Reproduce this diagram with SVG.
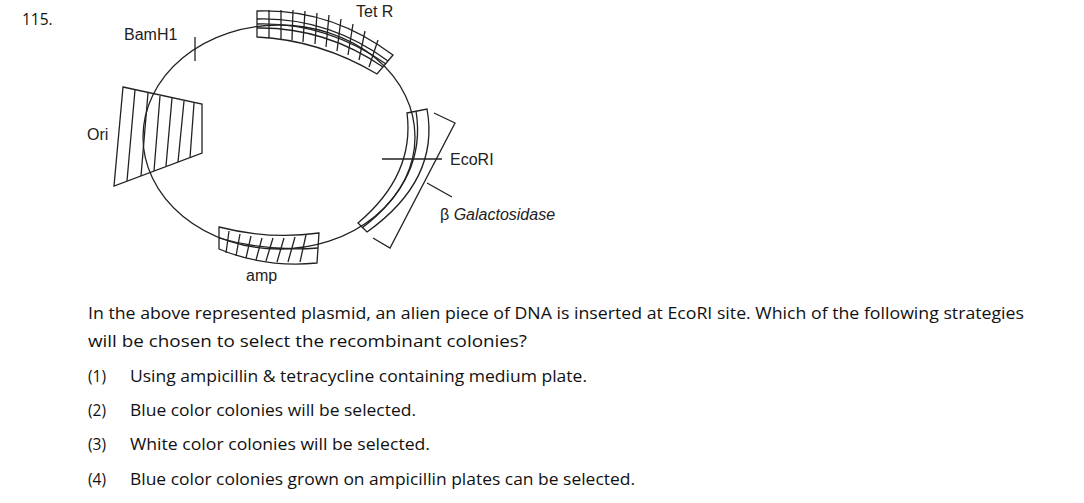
<svg xmlns="http://www.w3.org/2000/svg" width="1084" height="503" viewBox="0 0 1084 503">
<style>
.s{fill:none;stroke:#222;stroke-width:1.3}
.t{font-family:"Liberation Sans",Arial,sans-serif;font-size:16px;fill:#222}
.q{font-family:"Open Sans","Liberation Sans",sans-serif;font-size:15.5px;fill:#111}
</style>
<rect width="1084" height="503" fill="#fff"/>
<text class="q" x="22" y="25" font-size="17">115.</text>
<g id="plasmid">
<ellipse class="s" cx="279" cy="137" rx="136" ry="112"/>
</g>
<g id="tetR">
<path class="s" d="M257,11 Q330,8 393,55 L377,74 Q320,40 257,37 Z"/>
<path class="s" d="M257,19 Q328,17 388,61 M257,28 Q325,27 383,67"/>
<path class="s" stroke-width="3" d="M257,24 Q326,22 386,64"/>
<path class="s" d="M269,10 L269,38 M281,10 L281,39 M293,10 L292,40 M305,11 L303,42 M317,13 L315,44 M329,15 L326,47 M341,19 L337,51 M353,24 L348,55 M365,31 L359,60 M378,40 L369,67"/>
<text class="t" x="356" y="17">Tet R</text>
</g>
<g id="bamh1">
<line class="s" x1="195" y1="37" x2="195" y2="61"/>
<text class="t" x="124" y="40">BamH1</text>
</g>
<g id="ori">
<polygon class="s" points="123,87 202,104 202,153 114,186"/>
<path class="s" d="M135,90 L127,181 M148,93 L141,176 M160,96 L154,171 M172,98 L166,166 M184,101 L178,162 M194,103 L190,158"/>
<text class="t" x="87" y="140">Ori</text>
</g>
<g id="amp">
<path class="s" d="M219,227 Q270,240 319,233 L317,263 Q265,268 219,249 Z"/>
<path class="s" d="M219,238 Q268,252 318,248"/>
<path class="s" d="M229,231 L226,253 M240,234 L236,256 M251,236 L246,258 M262,238 L256,260 M273,238 L266,261 M284,238 L277,262 M295,237 L288,262 M306,235 L300,262"/>
<text class="t" x="246" y="281">amp</text>
</g>
<g id="lacz">
<path class="s" d="M407,113 L427,109 Q440,180 367,232 L358,223 Q415,175 407,113 Z"/>
<path class="s" stroke-width="3" d="M416,111 Q427,178 362,228"/>
<path class="s" d="M434,113 L455,123 L390,248 L373,238"/>
<line class="s" x1="382" y1="159" x2="442" y2="159"/>
<text class="t" x="450" y="165">EcoRI</text>
<line class="s" x1="427" y1="183" x2="452" y2="197"/>
<text class="t" x="440" y="220">β <tspan font-style="italic">Galactosidase</tspan></text>
</g>
<g id="question">
<text class="q" x="88" y="319" textLength="936" lengthAdjust="spacingAndGlyphs">In the above represented plasmid, an alien piece of DNA is inserted at EcoRI site. Which of the following strategies</text>
<text class="q" x="88" y="347" textLength="439" lengthAdjust="spacingAndGlyphs">will be chosen to select the recombinant colonies?</text>
<text class="q" x="88" y="382">(1)</text><text class="q" x="130" y="382" textLength="457" lengthAdjust="spacingAndGlyphs">Using ampicillin &amp; tetracycline containing medium plate.</text>
<text class="q" x="88" y="416">(2)</text><text class="q" x="130" y="416" textLength="286" lengthAdjust="spacingAndGlyphs">Blue color colonies will be selected.</text>
<text class="q" x="88" y="450">(3)</text><text class="q" x="130" y="450" textLength="300" lengthAdjust="spacingAndGlyphs">White color colonies will be selected.</text>
<text class="q" x="88" y="485">(4)</text><text class="q" x="130" y="485" textLength="505" lengthAdjust="spacingAndGlyphs">Blue color colonies grown on ampicillin plates can be selected.</text>
</g>
</svg>
